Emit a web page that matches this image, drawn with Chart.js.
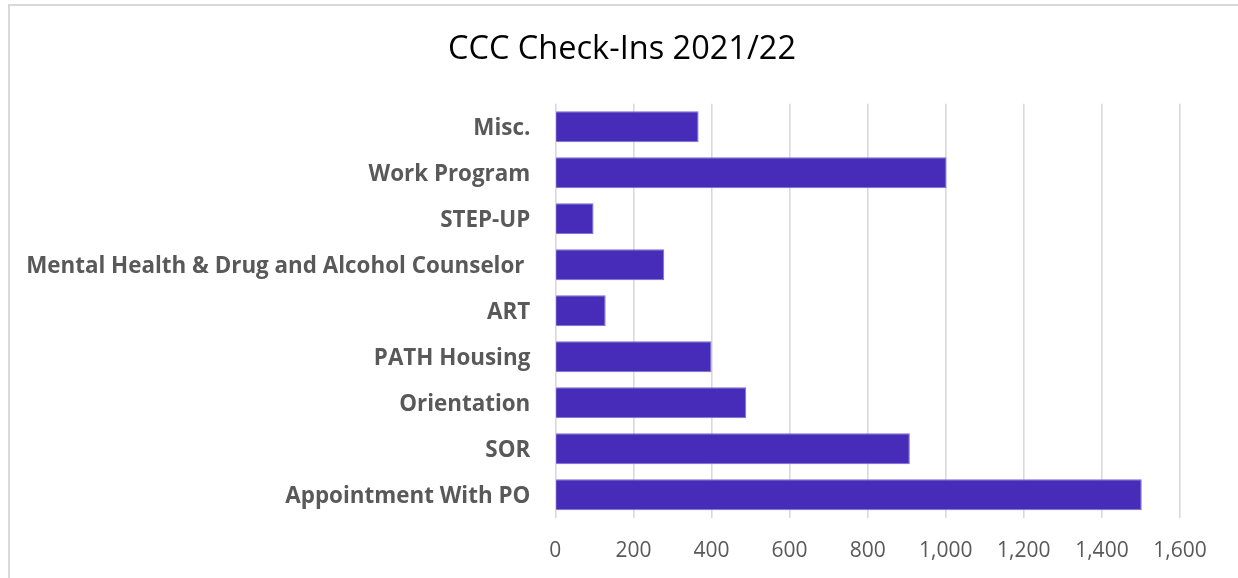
<!DOCTYPE html>
<html>
<head>
<meta charset="utf-8">
<title>CCC Check-Ins 2021/22</title>
<script src="https://cdn.jsdelivr.net/npm/chart.js@4"></script>
<style>
  html, body { margin: 0; padding: 0; background: #fff; overflow: hidden; }
  #frame {
    position: absolute; left: 8px; top: 4px; width: 1300px; height: 620px;
    border-left: 2px solid #d9d9d9; border-top: 2px solid #d9d9d9;
  }
  #chart { position: absolute; left: 0; top: 0; }
</style>
</head>
<body>
<div id="frame"></div>
<canvas id="chart" width="1238" height="578"></canvas>
<script>
// Check-in categories, top to bottom
const categories = [
  "Misc.",
  "Work Program",
  "STEP-UP",
  "Mental Health & Drug and Alcohol Counselor ",
  "ART",
  "PATH Housing",
  "Orientation",
  "SOR",
  "Appointment With PO"
];
const checkIns = [367, 1002, 98, 279, 129, 400, 489, 908, 1502];

// x axis range
const xMin = 0;
const xMax = 1600;
const xStep = 200;

const labelGray = "#595959";
const gridGray = "#d9d9d9";

const ctx = document.getElementById("chart").getContext("2d");
new Chart(ctx, {
  type: "bar",
  data: {
    labels: categories,
    datasets: [{
      label: "Check-Ins",
      data: checkIns,
      backgroundColor: "#472cb9",
      borderColor: "#7e6cd2",
      borderWidth: 1,
      barPercentage: 0.674,
      categoryPercentage: 1
    }]
  },
  options: {
    indexAxis: "y",
    responsive: false,
    animation: false,
    layout: { padding: { left: 6, right: 0, top: 0, bottom: 0 } },
    plugins: {
      legend: { display: false },
      tooltip: { enabled: false },
      title: {
        display: true,
        text: "CCC Check-Ins 2021/22",
        color: "#000",
        font: { family: "'Open Sans', sans-serif", size: 32.5, weight: "normal", lineHeight: 1.2 },
        padding: { top: 30, bottom: 34.8 }
      }
    },
    scales: {
      x: {
        min: xMin,
        max: xMax,
        ticks: {
          stepSize: xStep,
          color: labelGray,
          padding: 21,
          font: { family: "'Open Sans', sans-serif", size: 21 }
        },
        grid: { color: gridGray, lineWidth: 1.6, drawTicks: false },
        border: { display: false },
        // fixed axis height and room on the right of the plot
        afterFit: scale => { scale.height = 60.2; scale.paddingRight = 58; }
      },
      y: {
        ticks: {
          color: labelGray,
          padding: 25,
          labelOffset: 1.5,
          font: { family: "'Open Sans', sans-serif", size: 22.4, weight: "bold" }
        },
        grid: { display: false, drawTicks: false },
        border: { display: false },
        afterFit: scale => { scale.width = 549.3; }
      }
    }
  }
});
</script>
</body>
</html>
